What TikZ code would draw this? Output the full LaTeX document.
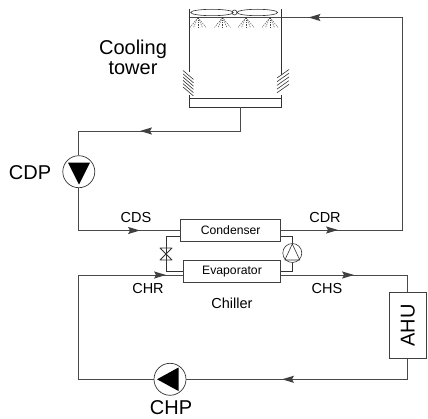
\documentclass[tikz,border=0pt]{standalone}
\usepackage{fontspec}
\setmainfont{Liberation Sans}
\usepackage{tikz}
\usetikzlibrary{arrows.meta,positioning,calc}
\tikzset{
  pipeln/.style={line width=0.9pt, gray!10!black!75},
  wallln/.style={line width=0.8pt, black!80},
  thinln/.style={line width=0.6pt, black!80},
  unitbox/.style={draw=black!75, line width=0.8pt, minimum height=22pt, inner sep=0pt, font=\fontsize{12.2}{14}\selectfont},
  pumpcirc/.style={draw=black!80, line width=0.7pt, circle, minimum size=32pt, inner sep=0pt},
  biglbl/.style={font=\fontsize{20}{20}\selectfont, inner sep=0pt},
  smalllbl/.style={font=\fontsize{14.5}{16}\selectfont, inner sep=0pt},
}
\newcommand{\flowtip}[2]{%
  \fill[black!75, shift={#1}, rotate=#2] (6,0) -- (-6,-3.6) -- (-4,0) -- (-6,3.6) -- cycle;
}
\newcommand{\spraynoz}[1]{%
  \foreach \dx in {-8,-4.5,0,4.5,8}
    \draw[line width=0.4pt, black!75, dash pattern=on 1.4pt off 0.9pt] (#1,17.5) -- ++(\dx,10);
}
\begin{document}
\begin{tikzpicture}[x=1pt,y=-1pt]
  \useasboundingbox (0,0) rectangle (428,419);
  % Units
  \node[unitbox, minimum width=100pt] (cond) at (230.7,230) {Condenser};
  \node[unitbox, minimum width=97.5pt] (evap) at (232,271.3) {Evaporator};
  \node[draw=black!75, line width=0.8pt, minimum width=36.5pt, minimum height=66.7pt, inner sep=0pt] (ahu) at (407.8,325.3) {};
  \node[biglbl, rotate=90] (ahulbl) at (ahu) {AHU};
  \node[pumpcirc] (cdp) at (78.8,171.7) {};
  \node[pumpcirc] (chp) at (170,379.3) {};
  % Tower walls and basin
  \draw[wallln] (189.5,9) -- (189.5,72);
  \draw[wallln] (281,9) -- (281,75);
  \draw[wallln] (189.5,95) -- (189.5,107.3) -- (281,107.3) -- (281,95);
  \draw[wallln] (189.5,98.3) -- (281,98.3);
  \coordinate (basin) at (240.7,107.3);
  \foreach \yy in {70.5,73.8,77.1,80.4,83.7,87}
    \draw[thinln] (183,\yy) -- ++(10.5,9);
  \foreach \yy in {78,81.7,85.4,89.1,92.8}
    \draw[thinln] (277,\yy) -- ++(12,-8.5);
  % Fan
  \node[draw=black!80, line width=0.6pt, circle, minimum size=5pt, inner sep=0pt] (hub) at (234.5,12.5) {};
  \draw[thinln] (212,12.5) ellipse (21.3 and 3.2);
  \draw[thinln] (257.3,12.5) ellipse (20.3 and 3.2);
  % Spray
  \draw[pipeln] (190,17.5) -- (402,17.5);
  \foreach \nx in {198,222.5,246,270}
    \spraynoz{\nx}
  % Condenser water loop
  \coordinate (retc) at (402,230);
  \coordinate (tee) at (78.8,131);
  \coordinate (stem) at (240.7,131);
  \coordinate (cdsc) at (78.8,230.5);
  \draw[pipeln] (cond.east) -- (retc) -- (402,17.5);
  \draw[pipeln] (basin) -- (stem) -- (tee) -- (cdp);
  \draw[pipeln] (cdp) -- (cdsc) -- (cond.west |- cdsc);
  % Chilled water loop
  \coordinate (chrc) at (78.8,275);
  \coordinate (botl) at (78.8,379.3);
  \coordinate (chsc) at (407.8,275);
  \coordinate (botr) at (407.8,379.3);
  \draw[pipeln] (evap.west |- chrc) -- (chrc) -- (botl) -- (chp);
  \draw[pipeln] (evap.east |- chsc) -- (chsc) -- (ahu);
  \draw[pipeln] (ahu) -- (botr) -- (chp);
  % Pump triangles
  \fill[black] (68,162.7) -- (90,162.7) -- (79,184.5) -- cycle;
  \fill[black] (157,379.3) -- (178.5,367.5) -- (178.5,391) -- cycle;
  % Refrigerant side
  \node[draw=black!80, line width=0.6pt, circle, minimum size=19pt, inner sep=0pt] (comp) at (292.3,253) {};
  \coordinate (vtop) at (166,236.7);
  \coordinate (vbot) at (166,271);
  \coordinate (valve) at (166,254);
  \coordinate (ctop) at (292.3,236.7);
  \coordinate (cbot) at (292.3,271);
  \draw[wallln] (cond.west |- vtop) -- (vtop) -- (valve);
  \draw[wallln] (valve) -- (vbot) -- (evap.west |- vbot);
  \draw[wallln, line join=round] (160,248) -- (172,248) -- (160,260) -- (172,260) -- cycle;
  \draw[wallln] (cond.east |- vtop) -- (ctop) -- (comp);
  \draw[wallln] (evap.east |- vbot) -- (cbot) -- (comp);
  \draw[thinln, line join=round] (292.3,244) -- (299.8,260) -- (284.8,260) -- cycle;
  % Flow arrows
  \flowtip{(314.5,17.5)}{180}
  \flowtip{(146,131)}{180}
  \flowtip{(134,230.5)}{0}
  \flowtip{(332,230)}{0}
  \flowtip{(160,275)}{0}
  \flowtip{(348,275)}{0}
  \flowtip{(288,379.3)}{180}
  % Labels
  \node[biglbl, align=center] (cool) at (133,57) {Cooling\\tower};
  \node[biglbl] (cdplbl) at (30,172.5) {CDP};
  \node[biglbl] (chplbl) at (171,408) {CHP};
  \node[smalllbl] (cds) at (136,217.5) {CDS};
  \node[smalllbl] (cdr) at (325,218) {CDR};
  \node[smalllbl] (chr) at (148,289) {CHR};
  \node[smalllbl] (chs) at (327,288.5) {CHS};
  \node[smalllbl] (chiller) at (232,303) {Chiller};
\end{tikzpicture}
\end{document}
